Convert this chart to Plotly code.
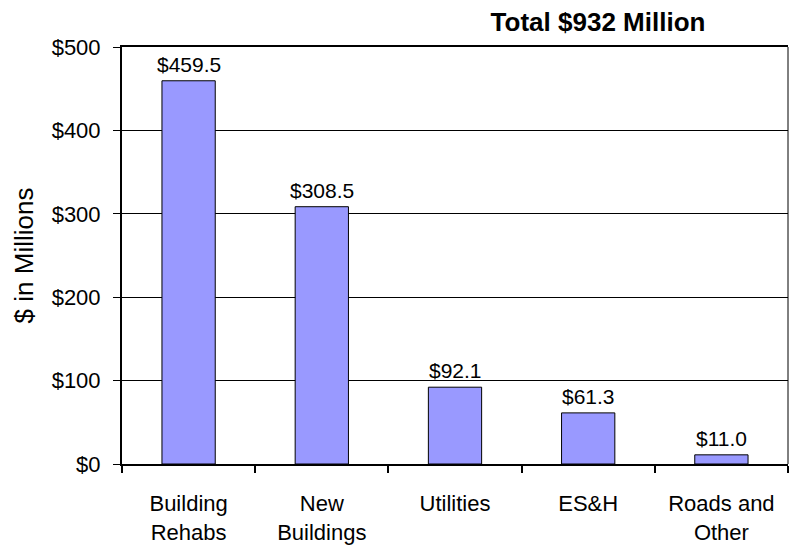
import plotly.graph_objects as go

# Spending by category, $ millions
categories = ["Building<br>Rehabs", "New<br>Buildings", "Utilities", "ES&H", "Roads and<br>Other"]
values = [459.5, 308.5, 92.1, 61.3, 11.0]
value_labels = ["$459.5", "$308.5", "$92.1", "$61.3", "$11.0"]
y_ticks = [0, 100, 200, 300, 400, 500]
y_tick_labels = ["$0", "$100", "$200", "$300", "$400", "$500"]

FONT = "Liberation Sans, Arial, sans-serif"

fig = go.Figure(
    go.Bar(
        x=categories,
        y=values,
        width=0.4,
        marker=dict(color="#9999FF", line=dict(color="black", width=1)),
    )
)

# value labels sitting just above each bar
for cat, val, lab in zip(categories, values, value_labels):
    fig.add_annotation(
        x=cat, y=val, text=lab, showarrow=False,
        xref="x", yref="y", yanchor="bottom", yshift=3,
        font=dict(family=FONT, size=21, color="black"),
    )

fig.update_layout(
    width=790,
    height=548,
    margin=dict(l=122, r=2, t=47, b=84),
    paper_bgcolor="white",
    plot_bgcolor="white",
    showlegend=False,
    font=dict(family=FONT, color="black"),
    title=dict(
        text="<b>Total $932 Million</b>",
        font=dict(family=FONT, size=26, color="black"),
        x=598 / 790,
        xanchor="center",
        xref="container",
        y=1 - 22 / 548,
        yanchor="middle",
        yref="container",
    ),
)

fig.update_xaxes(
    type="category",
    tickson="boundaries",
    ticks="outside",
    ticklen=7,
    tickwidth=2,
    tickcolor="black",
    showline=True,
    linecolor="black",
    linewidth=2,
    mirror=True,
    showgrid=False,
    tickfont=dict(family=FONT, size=22, color="black"),
    ticklabelstandoff=19,
)

fig.update_yaxes(
    range=[0, 500],
    tickmode="array",
    tickvals=y_ticks,
    ticktext=y_tick_labels,
    ticks="outside",
    ticklen=7,
    tickwidth=1,
    tickcolor="black",
    showline=True,
    linecolor="black",
    linewidth=2,
    showgrid=True,
    gridcolor="black",
    gridwidth=1,
    zeroline=False,
    tickfont=dict(family=FONT, size=22, color="black"),
    ticklabelstandoff=8,
    title=dict(text="$ in Millions", font=dict(family=FONT, size=26, color="black"), standoff=11),
)

# thin frame line on the right side of the plot area
fig.add_shape(type="line", xref="paper", yref="paper", x0=1, x1=1, y0=0, y1=1,
              line=dict(color="black", width=1))

fig.write_html("out.html")
